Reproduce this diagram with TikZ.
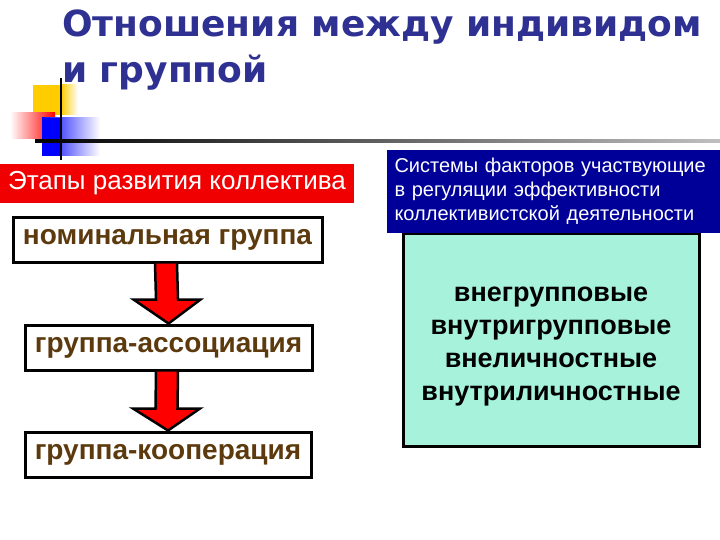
\documentclass[tikz,border=0pt]{standalone}
\usepackage{fontspec}
\setmainfont{Liberation Sans}
\newfontfamily\titlefont{DejaVu Sans}
\usetikzlibrary{calc}
\definecolor{titleblue}{HTML}{2E3192}
\definecolor{hdrred}{HTML}{F00000}
\definecolor{navy}{HTML}{000099}
\definecolor{aqua}{HTML}{A6F2DA}
\definecolor{brownt}{HTML}{5C3A0E}
\definecolor{dyellow}{HTML}{FFCC00}
\tikzset{
  stagebox/.style={draw=black, line width=3pt, fill=white, inner sep=0pt,
    font=\fontsize{28}{32}\selectfont\bfseries, text=brownt},
  redarrow/.style={draw=black, line width=2.5pt, fill=red, line join=miter},
  titletext/.style={anchor=base west, inner sep=0pt, text=titleblue, font=\titlefont\bfseries\fontsize{36}{46}\selectfont},
}
\begin{document}
\begin{tikzpicture}[x=1pt,y=-1pt]
\useasboundingbox (0,0) rectangle (720,540);
% decoration
\fill[dyellow] (33,85) rectangle (62,115);
\shade[left color=dyellow, right color=white] (61,85) rectangle (78,115);
\shade[left color=white, right color=red] (10,113) rectangle (55,139);
\shade[left color=blue, right color=white] (42,118) rectangle (100,156);
\fill[blue] (42,118) rectangle (60,156);
\draw[black, line width=1.5pt] (61,78) -- (61,160);
\shade[left color=black, right color=black!25] (35,140) rectangle (720,142.5);
% title
\node[titletext] (title1) at (62,37) {Отношения между индивидом};
\node[titletext] (title2) at (62,83) {и группой};
% left column
\node[fill=hdrred, text=white, inner sep=0pt, minimum width=354pt, minimum height=39pt, font=\fontsize{26}{30}\selectfont] (hdr) at (177,183.5) {Этапы развития коллектива};
\node[stagebox, minimum width=309pt, minimum height=44pt] (nom) at (167.5,240) {номинальная группа};
\node[stagebox, minimum width=287pt, minimum height=45pt] (assoc) at (168.5,347.5) {группа-ассоциация};
\node[stagebox, minimum width=286pt, minimum height=45pt] (coop) at (168,454.5) {группа-кооперация};
\draw[redarrow] ($(nom.south)+(-12.5,0)$) -- ($(assoc.north)+(-12.5,-24)$) -- ($(assoc.north)+(-35,-24)$) -- (assoc.north) -- ($(assoc.north)+(32,-24)$) -- ($(assoc.north)+(9.5,-24)$) -- ($(nom.south)+(9.5,0)$);
\draw[redarrow] ($(assoc.south)+(-12.5,0)$) -- ($(coop.north)+(-12.5,-22)$) -- ($(coop.north)+(-35,-22)$) -- (coop.north) -- ($(coop.north)+(32,-22)$) -- ($(coop.north)+(9.5,-22)$) -- ($(assoc.south)+(9.5,0)$);
% right column
\node[draw=black, line width=3pt, fill=aqua, minimum width=296pt, minimum height=213pt, inner sep=0pt, align=center, font=\fontsize{27}{33}\selectfont\bfseries] (factors) at (551,340) {\\[-6pt]внегрупповые\\внутригрупповые\\внеличностные\\внутриличностные};
\node[fill=navy, text=white, minimum width=333pt, minimum height=83pt, inner sep=0pt, text width=318pt, align=left, font=\fontsize{20}{24}\selectfont] (sys) at (553.5,191.5) {Системы факторов участвующие\\в регуляции эффективности\\коллективистской деятельности};
\end{tikzpicture}
\end{document}
